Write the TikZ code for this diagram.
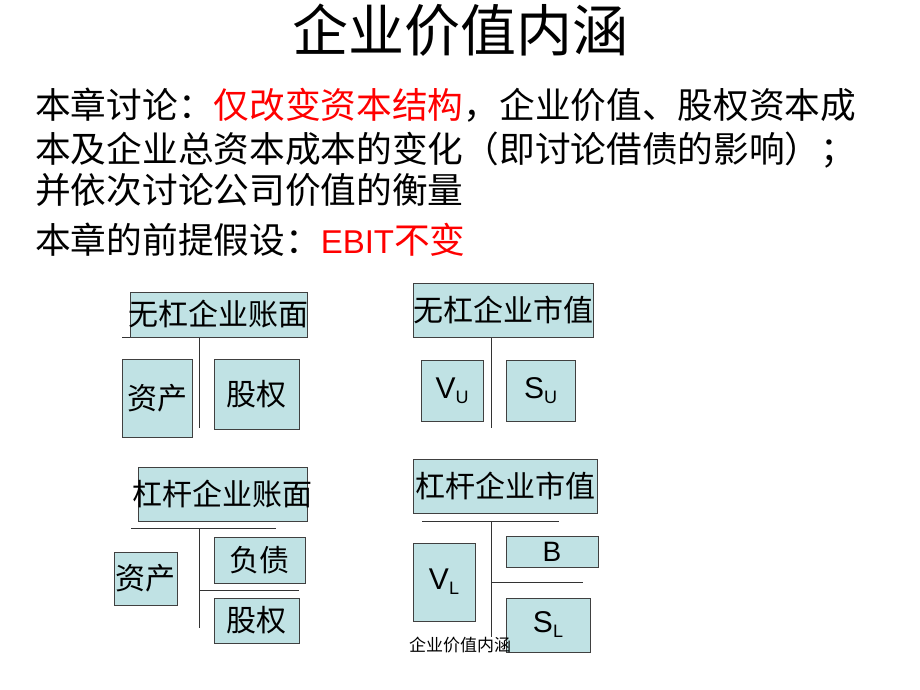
\documentclass[tikz,border=0pt]{standalone}
\usepackage{fontspec}
\setmainfont{Noto Sans CJK SC}
\newfontfamily\lat{Liberation Sans}
\definecolor{boxfill}{RGB}{192,226,228}
\definecolor{redtxt}{RGB}{255,0,0}
\newcommand{\fs}[1]{\fontsize{#1}{#1}\selectfont}
\begin{document}
\begin{tikzpicture}[x=1pt,y=-1pt,
  bx/.style={draw=black!75, fill=boxfill, line width=0.8pt, inner sep=0pt, font=\fs{30}},
  ln/.style={draw=black!80, line width=1pt},
  body/.style={anchor=west, inner sep=0pt, font=\fs{35.7}}]
\fill[white] (0,0) rectangle (920,690);
\useasboundingbox (0,0) rectangle (920,690);

% title and text
\node[inner sep=0pt, font=\fs{56}] (title) at (460,30) {企业价值内涵};
\node[body] (l1) at (35,105) {本章讨论：\textcolor{redtxt}{仅改变资本结构}，企业价值、股权资本成};
\node[body] (l2) at (35,150) {本及企业总资本成本的变化（即讨论借债的影响）；};
\node[body] (l3) at (35,190) {并依次讨论公司价值的衡量};
\node[body] (l4) at (35,240) {本章的前提假设：\textcolor{redtxt}{{\lat\fs{33}EBIT}不变}};

% block 1: unlevered book
\coordinate (h1w) at (122,337);
\coordinate (h1e) at (307,337);
\coordinate (v1t) at (199,337);
\coordinate (v1b) at (199,428);
\draw[ln] (h1w) -- (h1e);
\draw[ln] (v1t) -- (v1b);
\node[bx, minimum width=177pt, minimum height=45pt] (b1) at (218.5,314.5) {\makebox[0pt]{\raisebox{-1pt}{无杠企业账面}}};
\node[bx, minimum width=70pt, minimum height=78pt] (a1) at (157,398) {资产};
\node[bx, minimum width=85pt, minimum height=70pt] (e1) at (256.5,394) {股权};

% block 2: unlevered market
\coordinate (v2t) at (491,337);
\coordinate (v2b) at (491,428);
\draw[ln] (v2t) -- (v2b);
\node[bx, minimum width=180pt, minimum height=54pt] (b2) at (503,310) {\makebox[0pt]{\raisebox{-4pt}{无杠企业市值}}};
\node[bx, minimum width=62pt, minimum height=61pt, font=\lat\fs{30}] (vu) at (452,390.5) {V{\fs{18}\raisebox{-5pt}{U}}};
\node[bx, minimum width=69pt, minimum height=61pt, font=\lat\fs{30}] (su) at (540.5,390.5) {S{\fs{18}\raisebox{-5pt}{U}}};

% block 3: levered book
\coordinate (h3w) at (131,528);
\coordinate (h3e) at (276,528);
\coordinate (v3t) at (199,528);
\coordinate (v3b) at (199,628);
\coordinate (h3m) at (199,590);
\coordinate (h3r) at (299,590);
\draw[ln] (h3w) -- (h3e);
\draw[ln] (v3t) -- (v3b);
\draw[ln] (h3m) -- (h3r);
\node[bx, minimum width=169pt, minimum height=54pt] (b3) at (222.5,494) {\makebox[0pt]{\raisebox{-3pt}{杠杆企业账面}}};
\node[bx, minimum width=63pt, minimum height=53pt] (a3) at (145.5,578.5) {\makebox[0pt]{资产}};
\node[bx, minimum width=91pt, minimum height=46pt] (d3) at (259.5,560) {负债};
\node[bx, minimum width=85pt, minimum height=45pt] (e3) at (256.5,620.5) {股权};

% block 4: levered market
\coordinate (h4w) at (422,521);
\coordinate (h4e) at (559,521);
\coordinate (v4t) at (491,521);
\coordinate (v4b) at (491,637);
\coordinate (h4m) at (491,582);
\coordinate (h4r) at (583,582);
\draw[ln] (h4w) -- (h4e);
\draw[ln] (v4t) -- (v4b);
\draw[ln] (h4m) -- (h4r);
\node[bx, minimum width=184pt, minimum height=54pt] (b4) at (505,486) {\makebox[0pt]{\raisebox{-3pt}{杠杆企业市值}}};
\node[bx, minimum width=62pt, minimum height=78pt, font=\lat\fs{30}] (vl) at (444,582) {V{\fs{18}\raisebox{-5pt}{L}}};
\node[bx, minimum width=92pt, minimum height=31pt, font=\lat\fs{28}] (bb) at (552,551.5) {B};
\node[bx, minimum width=84pt, minimum height=54pt, font=\lat\fs{30}] (sl) at (548,625) {S{\fs{18}\raisebox{-5pt}{L}}};

% footer
\node[inner sep=0pt, font=\fs{17}] (foot) at (460,645) {企业价值内涵};
\end{tikzpicture}
\end{document}
